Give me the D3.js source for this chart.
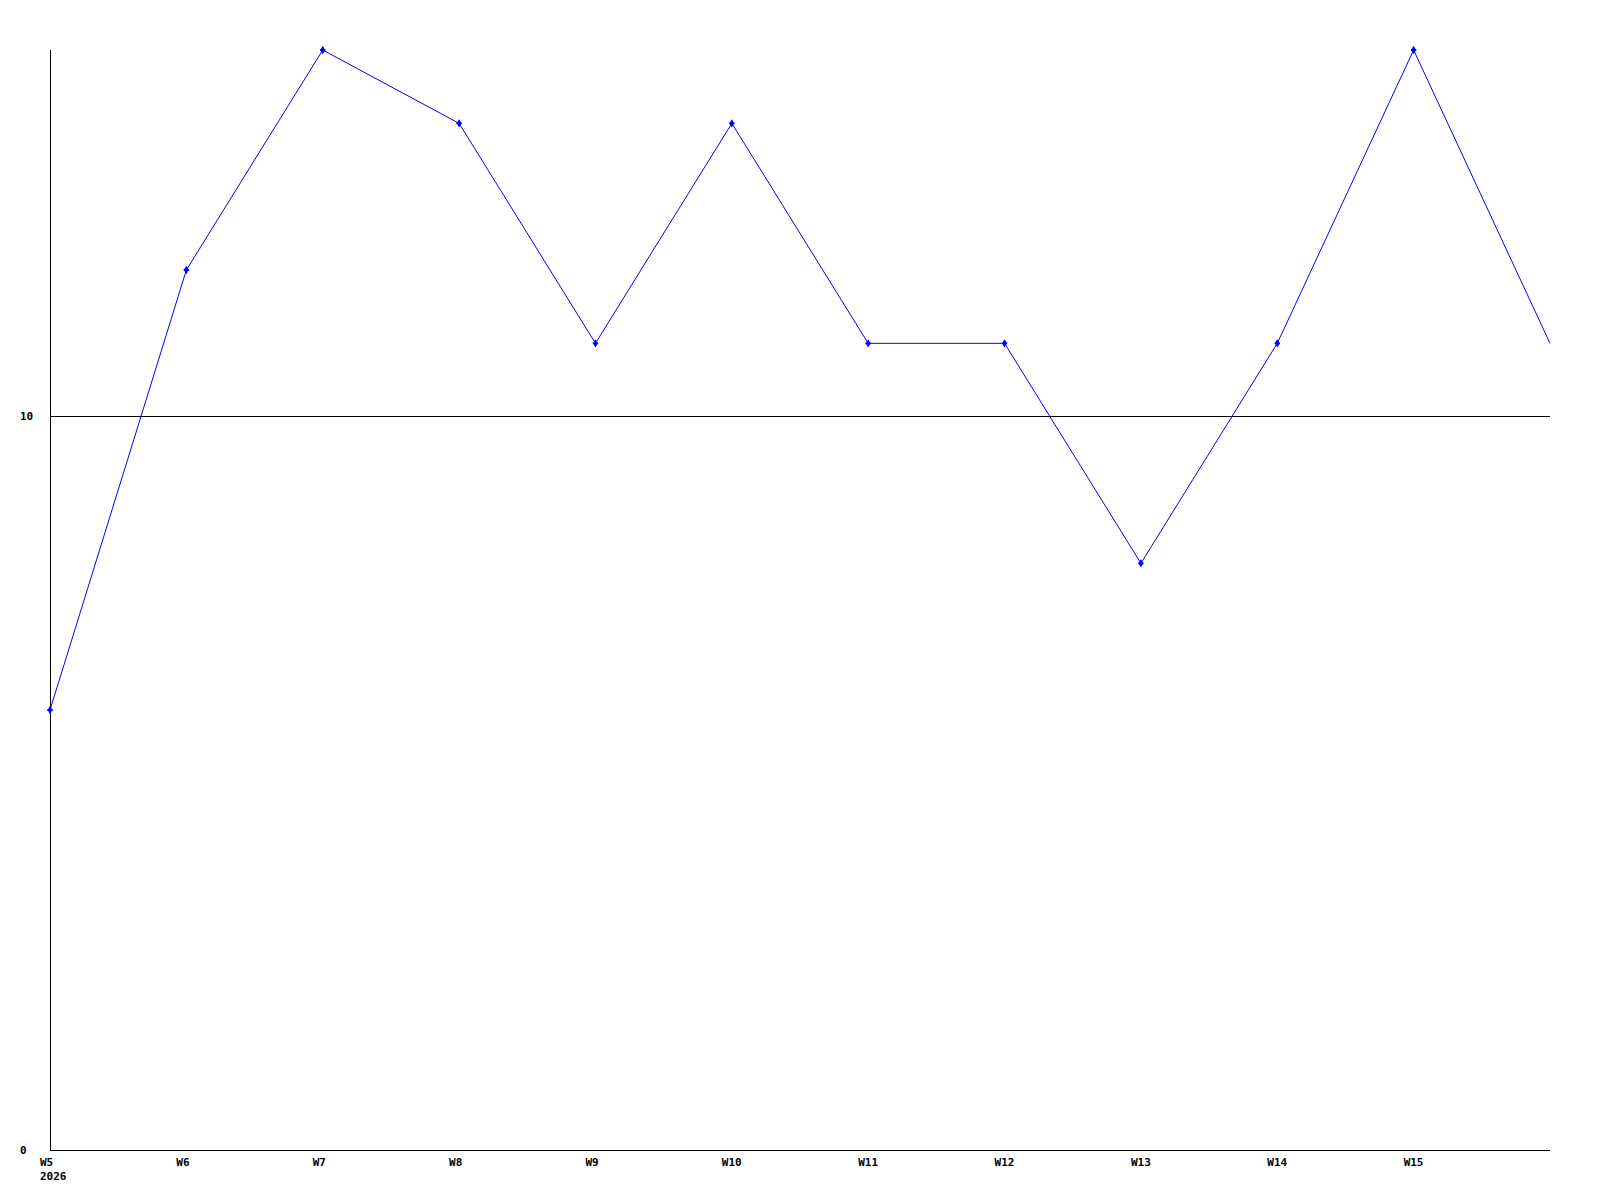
<!DOCTYPE html>
<html>
<head>
<meta charset="utf-8">
<script src="https://cdn.jsdelivr.net/npm/d3@7"></script>
<style>
  html, body { margin: 0; padding: 0; background: #fff; }
  svg { display: block; }
  text { font-family: "DejaVu Sans Mono", "Liberation Mono", monospace; font-weight: bold; font-size: 11px; fill: #000; }
</style>
</head>
<body>
<script>
// Data
const weeks = ["W5", "W6", "W7", "W8", "W9", "W10", "W11", "W12", "W13", "W14", "W15", "W16"];
const values = [6, 12, 15, 14, 11, 14, 11, 11, 8, 11, 15, 11];
const xTickLabels = ["W5", "W6", "W7", "W8", "W9", "W10", "W11", "W12", "W13", "W14", "W15"];
const yearLabel = "2026";
const yTicks = [0, 10];

const W = 1600, H = 1200;
const mLeft = 50, mRight = 1550, mTop = 50, mBottom = 1150;

const svg = d3.select("body").append("svg").attr("width", W).attr("height", H);

const x = d3.scaleLinear().domain([0, weeks.length - 1]).range([mLeft, mRight]);
const y = d3.scaleLinear().domain([0, 15]).range([mBottom, mTop]);

// horizontal reference line at 10 and y labels
yTicks.forEach(t => {
  if (t !== 0) {
    svg.append("line")
      .attr("x1", mLeft).attr("x2", mRight)
      .attr("y1", Math.floor(y(t)) + 0.5).attr("y2", Math.floor(y(t)) + 0.5)
      .attr("stroke", "#000").attr("stroke-width", 1)
      .attr("shape-rendering", "crispEdges");
  }
  svg.append("text")
    .attr("x", 20)
    .attr("y", Math.floor(y(t)) + 4)
    .text(t);
});

// axes
svg.append("line")
  .attr("x1", mLeft + 0.5).attr("x2", mLeft + 0.5)
  .attr("y1", mTop).attr("y2", mBottom)
  .attr("stroke", "#000").attr("shape-rendering", "crispEdges");
svg.append("line")
  .attr("x1", mLeft).attr("x2", mRight)
  .attr("y1", mBottom + 0.5).attr("y2", mBottom + 0.5)
  .attr("stroke", "#000").attr("shape-rendering", "crispEdges");

// x labels
xTickLabels.forEach((lab, i) => {
  svg.append("text")
    .attr("x", x(i) - 10)
    .attr("y", mBottom + 16)
    .text(lab);
});
svg.append("text")
  .attr("x", x(0) - 10)
  .attr("y", mBottom + 30)
  .text(yearLabel);

// line
const line = d3.line().x((d, i) => x(i)).y(d => y(d));
svg.append("path")
  .datum(values)
  .attr("d", line)
  .attr("fill", "none")
  .attr("stroke", "#0000ff")
  .attr("stroke-width", 1);

// markers (not on the final, open-ended point)
const diamond = d3.symbol().type(d3.symbolDiamond).size(20);
const cross = d3.symbol().type(d3.symbolCross).size(16);
const markerData = values.slice(0, values.length - 1);
[diamond, cross].forEach((s, k) => {
  svg.selectAll(".mk" + k)
    .data(markerData)
    .enter().append("path")
    .attr("class", "mk" + k)
    .attr("d", s)
    .attr("transform", (d, i) => `translate(${x(i)},${y(d)})`)
    .attr("fill", "#0000ff");
});
</script>
</body>
</html>
